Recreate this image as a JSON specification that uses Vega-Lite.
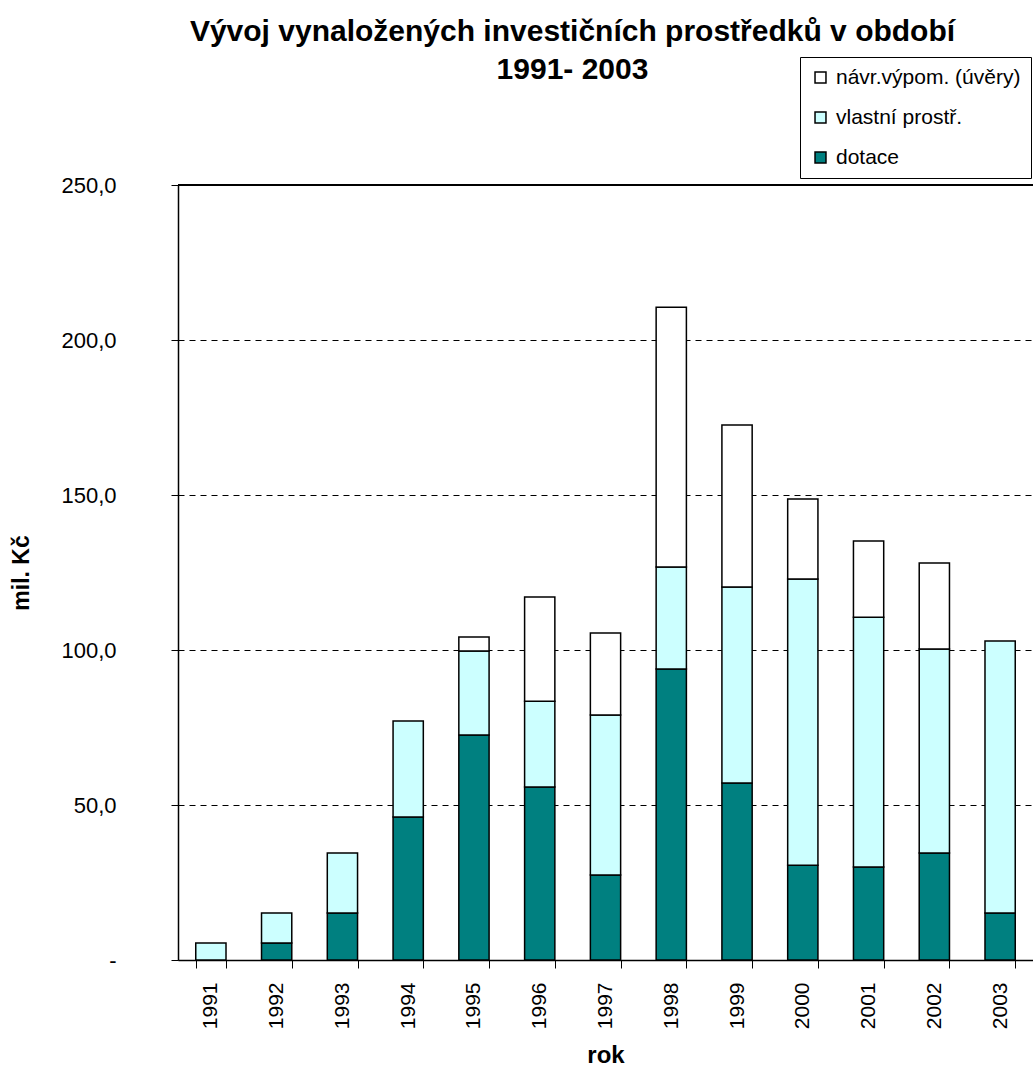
{
  "$schema": "https://vega.github.io/schema/vega-lite/v6.json",
  "autosize": "none",
  "width": 855,
  "height": 775,
  "padding": {"left": 178, "top": 185, "right": 0, "bottom": 111},
  "background": "white",
  "title": {
    "text": ["Vývoj vynaložených investičních prostředků  v období", "1991- 2003"],
    "font": "Liberation Sans",
    "fontSize": 30,
    "fontWeight": "bold",
    "color": "black",
    "anchor": "middle",
    "frame": "group",
    "dx": -33,
    "offset": -28,
    "lineHeight": 38
  },
  "data": {
    "values": [
      {"rok": "1991", "serie": "dotace", "ord": 1, "hodnota": 0},
      {"rok": "1991", "serie": "vlastní prostř.", "ord": 2, "hodnota": 5.5},
      {"rok": "1991", "serie": "návr.výpom. (úvěry)", "ord": 3, "hodnota": 0},
      {"rok": "1992", "serie": "dotace", "ord": 1, "hodnota": 5.5},
      {"rok": "1992", "serie": "vlastní prostř.", "ord": 2, "hodnota": 9.7},
      {"rok": "1992", "serie": "návr.výpom. (úvěry)", "ord": 3, "hodnota": 0},
      {"rok": "1993", "serie": "dotace", "ord": 1, "hodnota": 15.2},
      {"rok": "1993", "serie": "vlastní prostř.", "ord": 2, "hodnota": 19.3},
      {"rok": "1993", "serie": "návr.výpom. (úvěry)", "ord": 3, "hodnota": 0},
      {"rok": "1994", "serie": "dotace", "ord": 1, "hodnota": 46.1},
      {"rok": "1994", "serie": "vlastní prostř.", "ord": 2, "hodnota": 31.0},
      {"rok": "1994", "serie": "návr.výpom. (úvěry)", "ord": 3, "hodnota": 0},
      {"rok": "1995", "serie": "dotace", "ord": 1, "hodnota": 72.6},
      {"rok": "1995", "serie": "vlastní prostř.", "ord": 2, "hodnota": 27.1},
      {"rok": "1995", "serie": "návr.výpom. (úvěry)", "ord": 3, "hodnota": 4.5},
      {"rok": "1996", "serie": "dotace", "ord": 1, "hodnota": 55.8},
      {"rok": "1996", "serie": "vlastní prostř.", "ord": 2, "hodnota": 27.7},
      {"rok": "1996", "serie": "návr.výpom. (úvěry)", "ord": 3, "hodnota": 33.6},
      {"rok": "1997", "serie": "dotace", "ord": 1, "hodnota": 27.4},
      {"rok": "1997", "serie": "vlastní prostř.", "ord": 2, "hodnota": 51.6},
      {"rok": "1997", "serie": "návr.výpom. (úvěry)", "ord": 3, "hodnota": 26.5},
      {"rok": "1998", "serie": "dotace", "ord": 1, "hodnota": 93.9},
      {"rok": "1998", "serie": "vlastní prostř.", "ord": 2, "hodnota": 32.9},
      {"rok": "1998", "serie": "návr.výpom. (úvěry)", "ord": 3, "hodnota": 83.8},
      {"rok": "1999", "serie": "dotace", "ord": 1, "hodnota": 57.1},
      {"rok": "1999", "serie": "vlastní prostř.", "ord": 2, "hodnota": 63.2},
      {"rok": "1999", "serie": "návr.výpom. (úvěry)", "ord": 3, "hodnota": 52.3},
      {"rok": "2000", "serie": "dotace", "ord": 1, "hodnota": 30.6},
      {"rok": "2000", "serie": "vlastní prostř.", "ord": 2, "hodnota": 92.3},
      {"rok": "2000", "serie": "návr.výpom. (úvěry)", "ord": 3, "hodnota": 25.8},
      {"rok": "2001", "serie": "dotace", "ord": 1, "hodnota": 30.0},
      {"rok": "2001", "serie": "vlastní prostř.", "ord": 2, "hodnota": 80.6},
      {"rok": "2001", "serie": "návr.výpom. (úvěry)", "ord": 3, "hodnota": 24.6},
      {"rok": "2002", "serie": "dotace", "ord": 1, "hodnota": 34.5},
      {"rok": "2002", "serie": "vlastní prostř.", "ord": 2, "hodnota": 65.8},
      {"rok": "2002", "serie": "návr.výpom. (úvěry)", "ord": 3, "hodnota": 27.8},
      {"rok": "2003", "serie": "dotace", "ord": 1, "hodnota": 15.2},
      {"rok": "2003", "serie": "vlastní prostř.", "ord": 2, "hodnota": 87.7},
      {"rok": "2003", "serie": "návr.výpom. (úvěry)", "ord": 3, "hodnota": 0}
    ]
  },
  "layer": [
    {
      "transform": [{"filter": "datum.hodnota > 0"}],
      "mark": {"type": "bar", "stroke": "black", "strokeWidth": 1.5},
      "encoding": {
        "x": {
          "field": "rok",
          "type": "ordinal",
          "scale": {"paddingInner": 0.54, "paddingOuter": 0.27},
          "axis": {
            "title": "rok",
            "titleFont": "Liberation Sans",
            "titleFontSize": 24,
            "titleFontWeight": "bold",
            "titleColor": "black",
            "titlePadding": 15,
            "labelFont": "Liberation Sans",
            "labelFontSize": 21,
            "labelColor": "black",
            "labelAngle": -90,
            "labelPadding": 14,
            "tickBand": "extent",
            "tickColor": "black",
            "tickSize": 8,
            "domainColor": "black",
            "domainWidth": 1.5
          }
        },
        "y": {
          "field": "hodnota",
          "type": "quantitative",
          "aggregate": "sum",
          "stack": "zero",
          "scale": {"domain": [0, 250], "nice": false},
          "axis": {
            "title": "mil. Kč",
            "titleFont": "Liberation Sans",
            "titleFontSize": 23,
            "titleFontWeight": "bold",
            "titleColor": "black",
            "titlePadding": 27,
            "values": [0, 50, 100, 150, 200, 250],
            "labelExpr": "datum.value == 0 ? '-' : replace(format(datum.value, '.1f'), '.', ',')",
            "labelFont": "Liberation Sans",
            "labelFontSize": 22,
            "labelColor": "black",
            "labelPadding": 55,
            "tickColor": "black",
            "tickSize": 7,
            "domainColor": "black",
            "domainWidth": 1.5,
            "grid": true,
            "gridColor": "black",
            "gridDash": [6, 5],
            "gridWidth": 1
          }
        },
        "color": {
          "field": "serie",
          "type": "nominal",
          "scale": {
            "domain": ["návr.výpom. (úvěry)", "vlastní prostř.", "dotace"],
            "range": ["#FFFFFF", "#CCFFFF", "#008080"]
          },
          "legend": {
            "title": null,
            "orient": "none",
            "legendX": 622,
            "legendY": -128,
            "symbolType": "square",
            "symbolSize": 120,
            "symbolStrokeColor": "black",
            "symbolStrokeWidth": 1.5,
            "labelFont": "Liberation Sans",
            "labelFontSize": 21,
            "labelLimit": 400,
            "labelColor": "black",
            "rowPadding": 18,
            "labelOffset": 5,
            "padding": 10,
            "strokeColor": "black",
            "fillColor": "white"
          }
        },
        "order": {"field": "ord", "type": "quantitative"}
      }
    },
    {
      "mark": {"type": "rule", "color": "black", "strokeWidth": 1},
      "encoding": {"y": {"datum": 250}}
    }
  ],
  "config": {"view": {"stroke": null}}
}
